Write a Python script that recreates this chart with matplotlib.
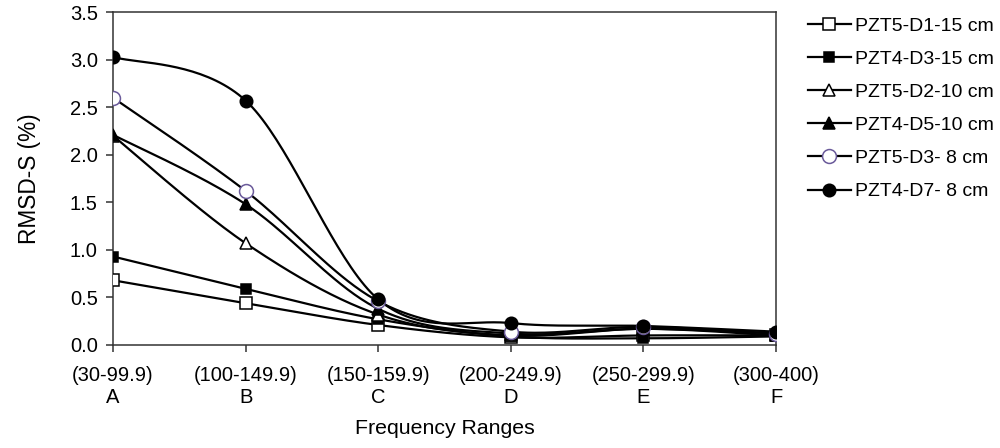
import numpy as np
import matplotlib
matplotlib.use("Agg")
import matplotlib.pyplot as plt
from matplotlib.ticker import FormatStrFormatter

plt.rcParams['font.family'] = ['Liberation Sans', 'DejaVu Sans']

# frequency ranges (categories)
ranges = ["(30-99.9)", "(100-149.9)", "(150-159.9)", "(200-249.9)", "(250-299.9)", "(300-400)"]
letters = ["A", "B", "C", "D", "E", "F"]

# RMSD-S (%) per sensor
pzt5_d1_15 = [0.68, 0.44, 0.21, 0.08, 0.10, 0.10]
pzt4_d3_15 = [0.93, 0.59, 0.27, 0.09, 0.07, 0.09]
pzt5_d2_10 = [2.20, 1.07, 0.32, 0.10, 0.17, 0.10]
pzt4_d5_10 = [2.21, 1.48, 0.38, 0.12, 0.17, 0.12]
pzt5_d3_8 = [2.60, 1.62, 0.46, 0.14, 0.19, 0.12]
pzt4_d7_8 = [3.03, 2.57, 0.48, 0.23, 0.20, 0.14]

series = [
    ("PZT5-D1-15 cm", pzt5_d1_15, dict(marker='s', mfc='white', mec='black', ms=8)),
    ("PZT4-D3-15 cm", pzt4_d3_15, dict(marker='s', mfc='black', mec='black', ms=7)),
    ("PZT5-D2-10 cm", pzt5_d2_10, dict(marker='^', mfc='white', mec='black', ms=9)),
    ("PZT4-D5-10 cm", pzt4_d5_10, dict(marker='^', mfc='black', mec='black', ms=9)),
    ("PZT5-D3- 8 cm", pzt5_d3_8, dict(marker='o', mfc='white', mec='#6a5a9a', ms=10)),
    ("PZT4-D7- 8 cm", pzt4_d7_8, dict(marker='o', mfc='black', mec='black', ms=9)),
]


def smooth(x, y, sx=132.0, sy=95.0, n=40):
    # Excel-like smoothed line: cubic bezier through points (done in screen scale)
    p = np.column_stack([np.asarray(x, float) * sx, np.asarray(y, float) * sy])
    out = []
    for i in range(len(p) - 1):
        p0 = p[i - 1] if i > 0 else p[i]
        p3 = p[i + 2] if i + 2 < len(p) else p[i + 1]
        c1 = p[i] + (p[i + 1] - p0) / 6.0
        c2 = p[i + 1] - (p3 - p[i]) / 6.0
        t = np.linspace(0, 1, n)[:, None]
        seg = ((1 - t) ** 3) * p[i] + 3 * ((1 - t) ** 2) * t * c1 + 3 * (1 - t) * t ** 2 * c2 + t ** 3 * p[i + 1]
        out.append(seg if i == 0 else seg[1:])
    out = np.vstack(out)
    return out[:, 0] / sx, out[:, 1] / sy


fig = plt.figure(figsize=(10, 4.48), dpi=100)
ax = fig.add_axes([0.113, 0.23, 0.663, 0.743])

x = np.arange(len(ranges))
handles = []
for label, vals, st in series:
    xs, ys = smooth(x, vals)
    ax.plot(xs, ys, color='black', lw=1.6, zorder=2)
    ax.plot(x, vals, ls='none', mew=1.1, zorder=3, **st)
    h, = ax.plot([], [], color='black', lw=1.6, label=label, mew=1.1, **st)
    handles.append(h)

ax.set_xlim(0, 5)
ax.set_ylim(0, 3.5)
ax.set_yticks(np.arange(0, 3.51, 0.5))
ax.yaxis.set_major_formatter(FormatStrFormatter('%.1f'))
ax.set_xticks(x)
ax.set_xticklabels([f"{r}\n{l}" for r, l in zip(ranges, letters)], linespacing=1.2)
ax.tick_params(axis='both', direction='out', length=5, width=1.1, labelsize=14.5, color='#333333')
ax.tick_params(axis='x', pad=10)
ax.tick_params(axis='y', pad=6)
for s in ax.spines.values():
    s.set_linewidth(1.1)
    s.set_color('#333333')

ax.set_xlabel("Frequency Ranges", fontsize=15.3, labelpad=9)
ax.set_ylabel("RMSD-S (%)", fontsize=16.3, labelpad=21)

fig.legend(handles=handles, loc='upper left', bbox_to_anchor=(0.808, 0.962), frameon=False,
           fontsize=14, handlelength=2.2, handletextpad=0.2, labelspacing=0.8,
           borderpad=0, borderaxespad=0)

fig.savefig("out.png", dpi=100)
